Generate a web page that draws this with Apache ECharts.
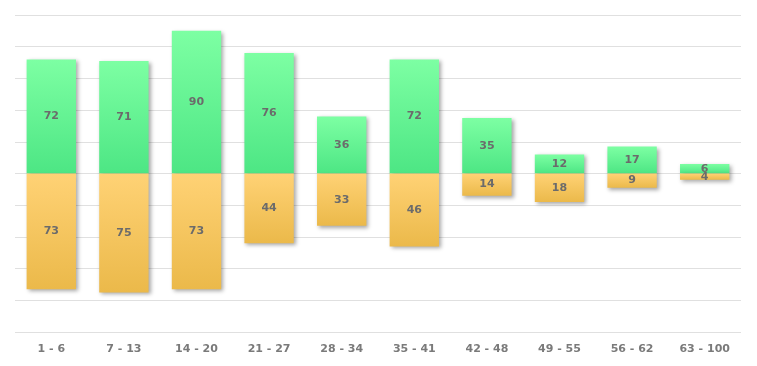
<!DOCTYPE html>
<html><head><meta charset="utf-8">
<script src="https://cdn.jsdelivr.net/npm/echarts@6/dist/echarts.min.js"></script>
<style>html,body{margin:0;padding:0;background:#fff}#c{width:757px;height:366px}</style>
</head><body><div id="c"></div>
<script>
const categories = ['1 - 6','7 - 13','14 - 20','21 - 27','28 - 34','35 - 41','42 - 48','49 - 55','56 - 62','63 - 100'];
const upValues = [72, 71, 90, 76, 36, 72, 35, 12, 17, 6];
const downValues = [73, 75, 73, 44, 33, 46, 14, 18, 9, 4];

const chart = echarts.init(document.getElementById('c'));
const lbl = {show:true, position:'inside', color:'#6b6b6b', fontFamily:'DejaVu Sans', fontWeight:'bold', fontSize:11,
  formatter: p => Math.abs(p.value)};
const shadow = {shadowColor:'rgba(0,0,0,0.35)', shadowBlur:4, shadowOffsetX:2, shadowOffsetY:2};
chart.setOption({
  animation:false,
  grid:{left:15,right:16,top:15,bottom:34,containLabel:false},
  xAxis:{type:'category', data:categories, axisLine:{show:false}, axisTick:{show:false},
    axisLabel:{color:'#7a7a7a', fontFamily:'DejaVu Sans', fontWeight:'bold', fontSize:11, margin:12, interval:0}},
  yAxis:{type:'value', min:-100, max:100, interval:20, axisLabel:{show:false}, axisLine:{show:false}, axisTick:{show:false},
    splitLine:{lineStyle:{color:'#e0e0e0'}}},
  series:[
    {type:'bar', stack:'a', data:upValues, barWidth:'68%', label:lbl,
      itemStyle:Object.assign({color:new echarts.graphic.LinearGradient(0,0,0,1,[{offset:0,color:'#7dffa3'},{offset:1,color:'#4de684'}])}, shadow)},
    {type:'bar', stack:'a', data:downValues.map(v=>-v), barWidth:'68%', label:lbl,
      itemStyle:Object.assign({color:new echarts.graphic.LinearGradient(0,0,0,1,[{offset:0,color:'#ffd275'},{offset:1,color:'#ebb94a'}])}, shadow)}
  ]
});
</script></body></html>
